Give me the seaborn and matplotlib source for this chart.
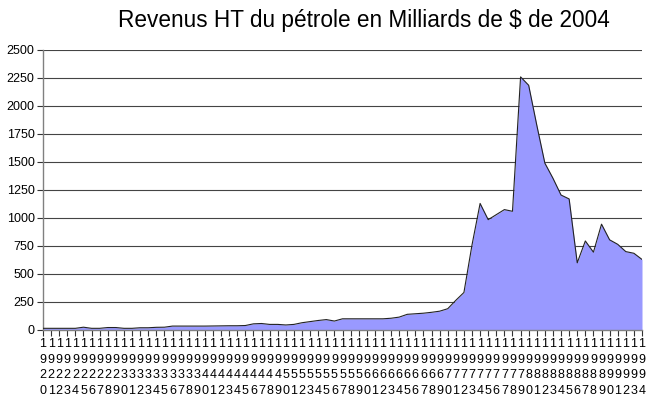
"""Revenus HT du pétrole (milliards de $ de 2004), graphique en aires façon Excel."""

import matplotlib
matplotlib.use("Agg")
import matplotlib.pyplot as plt
import seaborn as sns

# années 1920 -> 1994 et valeurs
annees = list(range(1920, 1995))
revenus = [
    15, 15, 15, 15, 15, 25, 15, 15, 22, 22,          # 1920-1929
    15, 15, 20, 20, 24, 25, 35, 35, 35, 35,          # 1930-1939
    35, 36, 37, 38, 38, 40, 55, 58, 50, 50,          # 1940-1949
    45, 50, 65, 75, 85, 93, 80, 100, 100, 100,       # 1950-1959
    100, 100, 100, 105, 115, 140, 145, 150, 158, 168,  # 1960-1969
    190, 265, 335, 760, 1130, 985, 1030, 1075, 1060, 2260,  # 1970-1979
    2185, 1830, 1490, 1355, 1205, 1170, 600, 795, 695, 945,  # 1980-1989
    805, 765, 700, 685, 630,                          # 1990-1994
]
graduations_y = list(range(0, 2501, 250))
etiquettes_x = ["\n".join(str(a)) for a in annees]   # chiffres empilés verticalement

sns.set_theme(style="white")
plt.rcParams["font.family"] = ["Liberation Sans", "DejaVu Sans"]
plt.rcParams["text.color"] = "black"
plt.rcParams["xtick.color"] = "black"
plt.rcParams["ytick.color"] = "black"

fig = plt.figure(figsize=(6.5, 4.08), dpi=100)
ax = fig.add_axes([43 / 650, 78 / 408, 599 / 650, 280 / 408])

# aire + contour
ax.fill_between(annees, revenus, 0, color="#9999FF", zorder=2, linewidth=0)
sns.lineplot(x=annees, y=revenus, ax=ax, color="#222222", linewidth=0.8, zorder=3)

ax.set_xlim(annees[0], annees[-1])
ax.set_ylim(0, 2500)
ax.set_yticks(graduations_y)
ax.set_yticklabels([str(v) for v in graduations_y], fontsize=9)
ax.set_xticks(annees)
ax.set_xticklabels(etiquettes_x, fontsize=9, linespacing=1.38)

# quadrillage horizontal uniquement
for v in graduations_y[1:]:
    ax.axhline(v, color="#444444", linewidth=0.8, zorder=1)

for s in ("top", "right"):
    ax.spines[s].set_visible(False)
for s in ("left", "bottom"):
    ax.spines[s].set_color("#808080")
    ax.spines[s].set_linewidth(1)
ax.tick_params(axis="both", direction="out", length=4, width=0.8, color="#333333",
               pad=2, bottom=True, left=True)
ax.set_xlabel("")
ax.set_ylabel("")

fig.text(364 / 650, 1 - 20 / 408, "Revenus HT du pétrole en Milliards de $ de 2004",
         ha="center", va="center", fontsize=16.3)

fig.savefig("out.png", dpi=100)
